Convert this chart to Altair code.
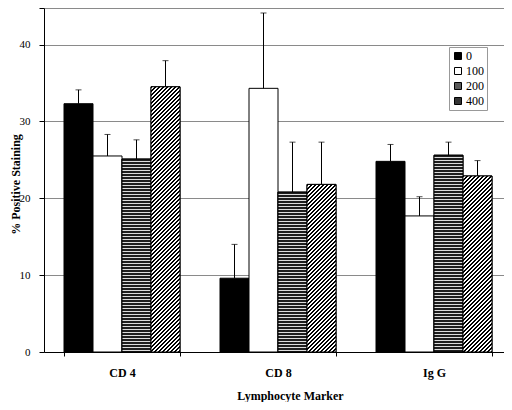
import math
import altair as alt
import pandas as pd

markers = ["CD 4", "CD 8", "Ig G"]
doses = ["0", "100", "200", "400"]
mean_0 = [32.3, 9.6, 24.8]
mean_100 = [25.5, 34.3, 17.7]
mean_200 = [25.1, 20.8, 25.6]
mean_400 = [34.5, 21.8, 22.9]
err_0 = [1.8, 4.4, 2.2]
err_100 = [2.8, 9.8, 2.5]
err_200 = [2.5, 6.5, 1.7]
err_400 = [3.4, 5.5, 2.0]

rows = []
for d, means, errs in zip(doses, [mean_0, mean_100, mean_200, mean_400],
                          [err_0, err_100, err_200, err_400]):
    for m, v, e in zip(markers, means, errs):
        rows.append(dict(marker=m, dose=d, value=v, upper=round(v + e, 2)))
df = pd.DataFrame(rows)

PLOT_W, PLOT_H = 460, 344
Y_MAX = 44.75
K = PLOT_H / Y_MAX
STEP = 156
P_IN = 40 / 156
P_OUT = ((PLOT_W / STEP) - 3 + P_IN) / 2
BAR_W = STEP * (1 - P_IN) / 4
SERIF = "Liberation Serif"

x_enc = alt.X("marker:N", scale=alt.Scale(domain=markers, paddingInner=P_IN, paddingOuter=P_OUT, align=0.625),
              axis=alt.Axis(title="Lymphocyte Marker", labelAngle=0, labelFont=SERIF, labelFontSize=12,
                            labelFontWeight="bold", labelColor="black", labelPadding=11,
                            tickBand="extent", tickSize=4, tickColor="black", domainColor="black",
                            titleFont=SERIF, titleFontSize=12, titleFontWeight="bold", titleColor="black",
                            titleX=246, titleY=38, grid=False))
xo_enc = alt.XOffset("dose:N", scale=alt.Scale(domain=doses, paddingInner=0, paddingOuter=0))
y_axis = alt.Axis(title="% Positive Staining", values=[0, 10, 20, 30, 40, Y_MAX], format="d",
                  labelExpr="datum.value > 41 ? '' : datum.label", grid=True, gridColor="#8a8a8a",
                  tickSize=5, tickColor="black", domainColor="black", labelFont=SERIF, labelFontSize=11,
                  labelColor="black", labelPadding=9, titleFont=SERIF, titleFontSize=12,
                  titleFontWeight="bold", titleColor="black", titleX=-22, titleY=176)
y_scale = alt.Scale(domain=[0, Y_MAX], nice=False, zero=True)


def hstripes(h):
    stops = []
    n = math.ceil(h / 3)
    for i in range(n):
        a = min(i * 3 / h, 1)
        b = min((i * 3 + 2) / h, 1)
        c = min((i + 1) * 3 / h, 1)
        stops += [("#1e1e1e", a), ("#1e1e1e", b), ("#dcdcdc", b), ("#dcdcdc", c)]
    return alt.LinearGradient(gradient="linear",
                              stops=[alt.GradientStop(color=col, offset=round(o, 5)) for col, o in stops],
                              x1=0, y1=0, x2=0, y2=1)


def diag(h, w=BAR_W):
    L = w + h
    t = L / (w * w + h * h)
    stops = []
    n = math.ceil(L / 4)
    for i in range(n):
        a = min(i * 4 / L, 1)
        b = min((i * 4 + 1.6) / L, 1)
        c = min((i + 1) * 4 / L, 1)
        stops += [("#000000", a), ("#000000", b), ("#ffffff", b), ("#ffffff", c)]
    return alt.LinearGradient(gradient="linear",
                              stops=[alt.GradientStop(color=col, offset=round(o, 5)) for col, o in stops],
                              x1=0, y1=0, x2=round(w * t, 5), y2=round(h * t, 5))


base = alt.Chart(df)

bars = base.mark_bar(stroke="black", strokeWidth=1).encode(
    x=x_enc, xOffset=xo_enc,
    y=alt.Y("value:Q", scale=y_scale, axis=y_axis),
    color=alt.Color("dose:N", scale=alt.Scale(domain=doses, range=["#000000", "#ffffff", "#5a5a5a", "#333333"]),
                    legend=alt.Legend(orient="none", legendX=405, legendY=39, title=None,
                                      symbolType="square", symbolSize=49, symbolStrokeColor="black",
                                      symbolStrokeWidth=1, labelFont=SERIF, labelFontSize=12,
                                      labelColor="black", padding=3, strokeColor="#999",
                                      fillColor="white", rowPadding=3, labelOffset=2)),
)

layers = [bars]
for r in rows:
    if r["dose"] in ("200", "400"):
        h = r["value"] * K
        g = hstripes(h) if r["dose"] == "200" else diag(h)
        layers.append(
            base.transform_filter(
                (alt.datum.marker == r["marker"]) & (alt.datum.dose == r["dose"])
            ).mark_bar(fill=g, stroke="black", strokeWidth=1).encode(
                x=x_enc, xOffset=xo_enc, y=alt.Y("value:Q", scale=y_scale, axis=y_axis)
            )
        )

err_rule = base.mark_rule(color="black", strokeWidth=1).encode(
    x=x_enc, xOffset=xo_enc,
    y=alt.Y("value:Q", scale=y_scale, axis=y_axis), y2="upper:Q")
err_cap = base.mark_tick(color="black", orient="horizontal", size=6, thickness=1).encode(
    x=x_enc, xOffset=xo_enc, y=alt.Y("upper:Q", scale=y_scale, axis=y_axis))
layers += [err_rule, err_cap]

chart = alt.layer(*layers).properties(
    width=PLOT_W, height=PLOT_H,
    padding={"left": 36, "top": 0, "right": 0, "bottom": 50},
    autosize=alt.AutoSizeParams(type="none"),
    background="white",
).configure_view(stroke=None)

chart.save("out.html", embed_options={"renderer": "svg", "actions": False})
